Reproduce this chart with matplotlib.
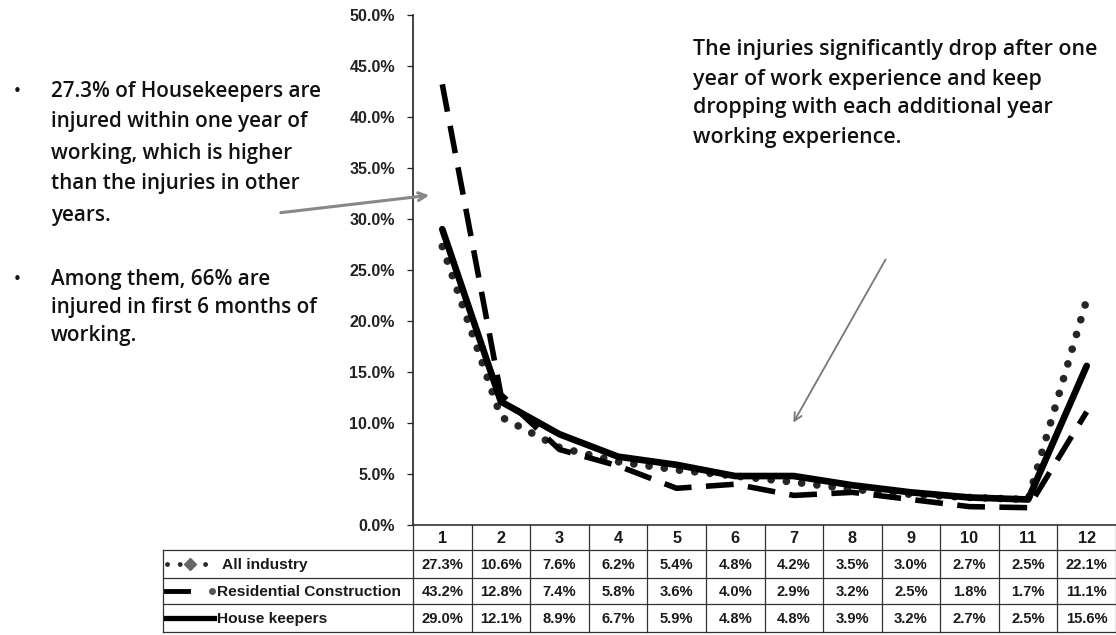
import matplotlib
matplotlib.use("Agg")
import matplotlib.pyplot as plt
from matplotlib.lines import Line2D
from matplotlib import font_manager

# ---- data -------------------------------------------------------------
years = ["1", "2", "3", "4", "5", "6", "7", "8", "9", "10", "11", "12"]
all_industry = [27.3, 10.6, 7.6, 6.2, 5.4, 4.8, 4.2, 3.5, 3.0, 2.7, 2.5, 22.1]
residential = [43.2, 12.8, 7.4, 5.8, 3.6, 4.0, 2.9, 3.2, 2.5, 1.8, 1.7, 11.1]
housekeepers = [29.0, 12.1, 8.9, 6.7, 5.9, 4.8, 4.8, 3.9, 3.2, 2.7, 2.5, 15.6]
series_names = ["All industry", "Residential Construction", "House keepers"]
y_ticks = [0, 5, 10, 15, 20, 25, 30, 35, 40, 45, 50]

note_left_1 = ["27.3% of Housekeepers are", "injured within one year of",
               "working, which is higher", "than the injuries in other", "years."]
note_left_2 = ["Among them, 66% are", "injured in first 6 months of", "working."]
note_right = ["The injuries significantly drop after one",
              "year of work experience and keep",
              "dropping with each additional year",
              "working experience."]

# ---- fonts ------------------------------------------------------------
installed = {f.name for f in font_manager.fontManager.ttflist}
body_font = next((n for n in ["Open Sans", "Lato", "Noto Sans"] if n in installed), "DejaVu Sans")
table_font = next((n for n in ["Liberation Sans", "Roboto", "Noto Sans"] if n in installed),
                  "DejaVu Sans")

W, H = 1116, 635
fig = plt.figure(figsize=(W / 100, H / 100), dpi=100)
renderer = fig.canvas.get_renderer()


def fit_size(text, width_px, base=10.0, **kw):
    """Font size (pt) at which `text` is `width_px` pixels wide."""
    t = fig.text(0, 0, text, fontsize=base, **kw)
    w = t.get_window_extent(renderer=renderer).width
    t.remove()
    return base * width_px / w


# geometry in pixels
AX_L, AX_R = 413, 1116
Y_ZERO, Y_TOP = 525, 15
LEG_L = 163
ROWS = [525, 550, 578, 604, 632]
col_w = (AX_R - AX_L) / len(years)

ax = fig.add_axes([AX_L / W, (H - Y_ZERO) / H, (AX_R - AX_L) / W, (Y_ZERO - Y_TOP) / H])
ax.set_facecolor("none")
x = list(range(1, len(years) + 1))

ax.plot(x, [v / 100 for v in all_industry], color="#262626", lw=5.5,
        linestyle=(0, (0.01, 2.0)), dash_capstyle="round", zorder=3)
ax.plot(x, [v / 100 for v in residential], color="black", lw=4,
        linestyle=(0, (5, 2.6)), zorder=4)
ax.plot(x, [v / 100 for v in housekeepers], color="black", lw=4.8,
        solid_capstyle="round", solid_joinstyle="round", zorder=5)

tick_fs = fit_size("30.0%", 46, fontfamily=table_font, fontweight="bold")
ax.set_xlim(0.5, len(years) + 0.5)
ax.set_ylim(0, 0.5)
ax.set_yticks([t / 100 for t in y_ticks])
ax.set_yticklabels([f"{t:.1f}%" for t in y_ticks], fontfamily=table_font,
                   fontsize=tick_fs, fontweight="bold", color="#222222")
ax.tick_params(axis="y", direction="out", length=4, width=0.9, pad=9, colors="#222222")
ax.set_xticks([])
for s in ["top", "right", "bottom"]:
    ax.spines[s].set_visible(False)
ax.spines["left"].set_linewidth(1.2)
ax.spines["left"].set_color("#222222")

# ---- overlay in pixel coordinates for table, notes and arrows -----------
ov = fig.add_axes([0, 0, 1, 1], zorder=10)
ov.set_xlim(0, W)
ov.set_ylim(H, 0)
ov.axis("off")
ov.patch.set_visible(False)

grid_c = "#333333"
ov.plot([AX_L, AX_R], [ROWS[0], ROWS[0]], color=grid_c, lw=1.2)
for yy in ROWS[1:]:
    ov.plot([LEG_L, AX_R], [yy, yy], color=grid_c, lw=0.9)
for k in range(len(years) + 1):
    xx = AX_L + k * col_w
    ov.plot([xx, xx], [ROWS[0], ROWS[-1]], color=grid_c, lw=0.9)
ov.plot([LEG_L, LEG_L], [ROWS[1], ROWS[-1]], color=grid_c, lw=0.9)

tfont = dict(fontfamily=table_font, fontweight="bold", color="#1a1a1a")
val_fs = fit_size("22.1%", 42, **tfont)
leg_fs = fit_size(series_names[1], 183, **tfont)
head_fs = val_fs * 1.1

for k, lab in enumerate(years):
    cx = AX_L + (k + 0.5) * col_w
    ov.text(cx, (ROWS[0] + ROWS[1]) / 2 + 1, lab, ha="center", va="center",
            fontsize=head_fs, **tfont)
for r, vals in enumerate([all_industry, residential, housekeepers]):
    cy = (ROWS[r + 1] + ROWS[r + 2]) / 2 + 1
    for k, v in enumerate(vals):
        cx = AX_L + (k + 0.5) * col_w
        ov.text(cx, cy, f"{v:.1f}%", ha="center", va="center", fontsize=val_fs, **tfont)

# legend keys in the table's first column
cy0 = (ROWS[1] + ROWS[2]) / 2
cy1 = (ROWS[2] + ROWS[3]) / 2
cy2 = (ROWS[3] + ROWS[4]) / 2
ov.add_line(Line2D([167, 212], [cy0, cy0], color="#2b2b2b", lw=3.5,
                   linestyle=(0, (0.01, 2.6)), dash_capstyle="round"))
ov.add_line(Line2D([190], [cy0], marker="D", markersize=6, color="#666666", lw=0))
ov.add_line(Line2D([166, 188], [cy1, cy1], color="black", lw=3.5))
ov.add_line(Line2D([212], [cy1], marker="o", markersize=4, color="#555555", lw=0))
ov.add_line(Line2D([166, 214], [cy2, cy2], color="black", lw=3.8))
ov.text(222, cy0 + 1, series_names[0], ha="left", va="center", fontsize=leg_fs, **tfont)
ov.text(217, cy1 + 1, series_names[1], ha="left", va="center", fontsize=leg_fs, **tfont)
ov.text(217, cy2 + 1, series_names[2], ha="left", va="center", fontsize=leg_fs, **tfont)

# ---- notes --------------------------------------------------------------
nkw = dict(fontfamily=body_font, fontweight="semibold", color="#111111")
left_fs = fit_size(note_left_1[0], 270, **nkw)
right_fs = fit_size(note_right[0], 405, **nkw)
for i, line in enumerate(note_left_1):
    ov.text(51, 91 + i * 31, line, ha="left", va="center", fontsize=left_fs, **nkw)
ov.text(13, 91, "\u2022", ha="left", va="center", fontsize=11, color="#111111")
for i, line in enumerate(note_left_2):
    ov.text(51, 280 + i * 28, line, ha="left", va="center", fontsize=left_fs, **nkw)
ov.text(13, 280, "\u2022", ha="left", va="center", fontsize=11, color="#111111")
for i, line in enumerate(note_right):
    ov.text(693, 50 + i * 29, line, ha="left", va="center", fontsize=right_fs, **nkw)

# ---- arrows -------------------------------------------------------------
ov.annotate("", xy=(432, 195), xytext=(278, 213),
            arrowprops=dict(arrowstyle="->", color="#888888", lw=2.2,
                            mutation_scale=14))
ov.annotate("", xy=(792, 425), xytext=(887, 257),
            arrowprops=dict(arrowstyle="->", color="#777777", lw=1.3,
                            mutation_scale=14))

fig.savefig("out.png", dpi=100, facecolor="white")
